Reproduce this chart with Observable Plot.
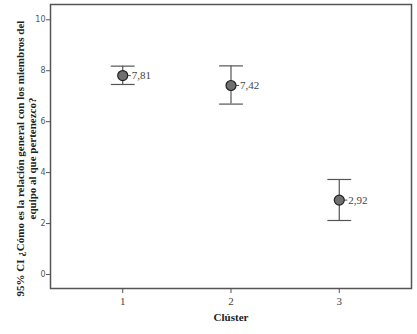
<!DOCTYPE html>
<html>
<head>
<meta charset="utf-8">
<script src="https://cdn.jsdelivr.net/npm/d3@7"></script>
<script src="https://cdn.jsdelivr.net/npm/@observablehq/plot@0.6"></script>
<style>
  html, body { margin: 0; padding: 0; background: #fff; }
</style>
</head>
<body>
<div id="chart"></div>
<script>
const clusters = [1, 2, 3];
const means = [7.81, 7.42, 2.92];
const lower = [7.46, 6.69, 2.12];
const upper = [8.18, 8.19, 3.73];
const meanLabels = ["7,81", "7,42", "2,92"];
const yTicks = [0, 2, 4, 6, 8, 10];
const yLabel = "95% CI ¿Cómo es la relación general con los miembros del\nequipo al que pertenezco?";
const xLabel = "Clúster";

const data = clusters.map((c, i) => ({c, m: means[i], lo: lower[i], hi: upper[i], t: meanLabels[i]}));
const capHalf = 0.11;
const leader = 0.075;

const chart = Plot.plot({
  width: 417,
  height: 334,
  marginLeft: 50,
  marginRight: 6,
  marginTop: 4,
  marginBottom: 46,
  style: {background: "#fff", color: "#444"},
  x: {domain: [0.333, 3.667], ticks: clusters, tickSize: 5, tickPadding: 3, label: null, tickFormat: d => String(d)},
  y: {domain: [-0.55, 10.6], ticks: yTicks, tickSize: 4, tickPadding: 1, label: null},
  marks: [
    Plot.frame({stroke: "#555", strokeWidth: 1.5}),
    Plot.axisY({ticks: yTicks, tickSize: 4, tickPadding: 1, fontSize: 8, fontFamily: "DejaVu Sans, sans-serif", fill: "#555", stroke: "#555", label: null}),
    Plot.axisX({ticks: clusters, tickSize: 5, tickPadding: 4, fontSize: 11, fontFamily: "Liberation Serif, serif", fill: "#444", stroke: "#555", label: null, tickFormat: d => String(d)}),
    Plot.ruleX(data, {x: "c", y1: "lo", y2: "hi", stroke: "#555", strokeWidth: 1.2}),
    Plot.link(data, {x1: d => d.c - capHalf, x2: d => d.c + capHalf, y1: "hi", y2: "hi", stroke: "#555", strokeWidth: 1.2}),
    Plot.link(data, {x1: d => d.c - capHalf, x2: d => d.c + capHalf, y1: "lo", y2: "lo", stroke: "#555", strokeWidth: 1.2}),
    Plot.link(data, {x1: "c", x2: d => d.c + leader, y1: "m", y2: "m", stroke: "#555", strokeWidth: 1}),
    Plot.dot(data, {x: "c", y: "m", r: 5, fill: "#6f6f6f", stroke: "#222", strokeWidth: 1.2}),
    Plot.text(data, {x: "c", y: "m", text: "t", dx: 9, textAnchor: "start", fontSize: 11, fontFamily: "Liberation Serif, serif", fill: "#444"}),
    Plot.text([yLabel], {frameAnchor: "left", textAnchor: "middle", lineAnchor: "middle", dx: -24, dy: 12, rotate: -90, fontSize: 11, fontWeight: "bold", fontFamily: "Liberation Serif, serif", fill: "#222", lineHeight: 1.1}),
    Plot.text([xLabel], {frameAnchor: "bottom", dy: 32, fontSize: 11, fontWeight: "bold", fontFamily: "Liberation Serif, serif", fill: "#222"})
  ]
});
document.getElementById("chart").appendChild(chart);
</script>
</body>
</html>
